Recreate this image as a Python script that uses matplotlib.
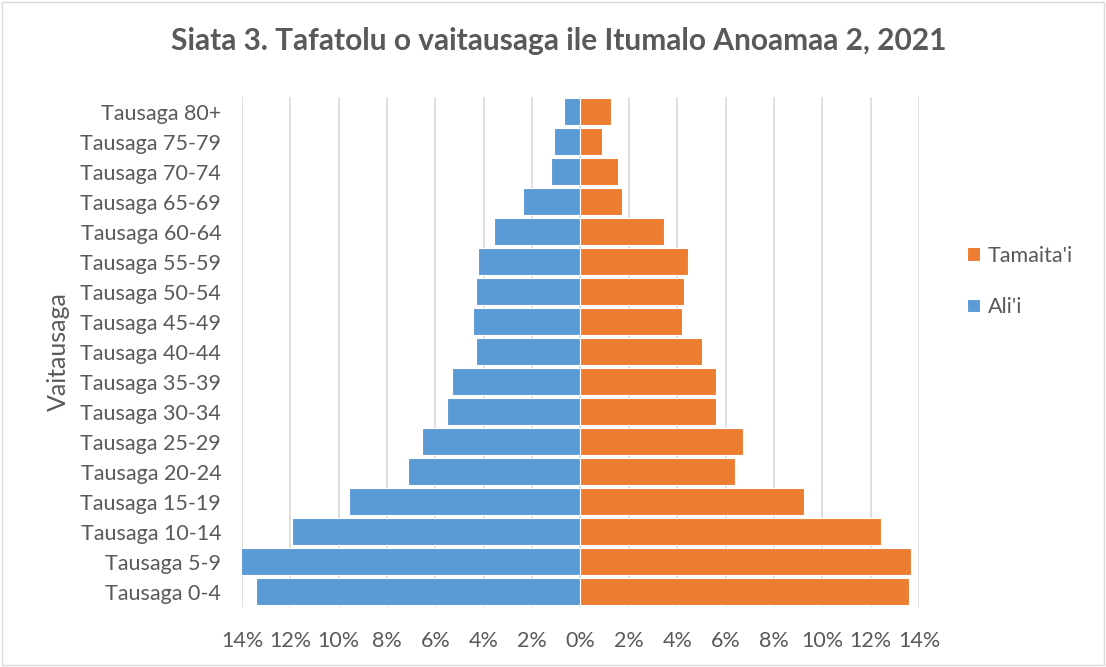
import matplotlib.pyplot as plt
import numpy as np
from matplotlib.patches import Rectangle
from matplotlib.ticker import FuncFormatter

# age groups, bottom to top
ages = ['Tausaga 0-4', 'Tausaga 5-9', 'Tausaga 10-14', 'Tausaga 15-19',
        'Tausaga 20-24', 'Tausaga 25-29', 'Tausaga 30-34', 'Tausaga 35-39',
        'Tausaga 40-44', 'Tausaga 45-49', 'Tausaga 50-54', 'Tausaga 55-59',
        'Tausaga 60-64', 'Tausaga 65-69', 'Tausaga 70-74', 'Tausaga 75-79',
        'Tausaga 80+']
# percent of population
alii = [13.4, 14.04, 11.94, 9.56, 7.12, 6.56, 5.51, 5.32, 4.31, 4.45,
        4.31, 4.23, 3.56, 2.37, 1.23, 1.1, 0.67]
tamaitai = [13.6, 13.69, 12.44, 9.25, 6.39, 6.72, 5.61, 5.61, 5.03, 4.2,
            4.28, 4.44, 3.47, 1.73, 1.57, 0.9, 1.25]
xticks = [-14, -12, -10, -8, -6, -4, -2, 0, 2, 4, 6, 8, 10, 12, 14]

grey = '#595959'
plt.rcParams['font.family'] = ['Lato', 'DejaVu Sans']

fig = plt.figure(figsize=(11.06, 6.67), dpi=100)
ax = fig.add_axes([0.2188, 0.09, 0.6121, 0.7646])

y = np.arange(len(ages))
b_m = ax.barh(y, -np.array(alii), height=0.9, color='#5B9BD5',
              edgecolor='white', linewidth=0.8, label="Ali'i", zorder=3)
b_f = ax.barh(y, tamaitai, height=0.9, color='#ED7D31',
              edgecolor='white', linewidth=0.8, label="Tamaita'i", zorder=3)

ax.set_xlim(-14, 14)
ax.set_ylim(-0.5, len(ages) - 0.5)
ax.set_xticks(xticks)
ax.xaxis.set_major_formatter(FuncFormatter(lambda v, p: '{:.0f}%'.format(abs(v))))
ax.set_yticks(y)
ax.set_yticklabels(ages)
ax.grid(axis='x', color='#d9d9d9', linewidth=1.2, zorder=0)
ax.tick_params(length=0, colors=grey, labelsize=15.5)
ax.tick_params(axis='x', pad=17)
ax.tick_params(axis='y', pad=15)
for s in ax.spines.values():
    s.set_visible(False)

ax.set_ylabel('Vaitausaga', color=grey, fontsize=18)
ax.yaxis.set_label_coords(-0.254, 0.5)

fig.suptitle('Siata 3. Tafatolu o vaitausaga ile Itumalo Anoamaa 2, 2021',
             x=0.505, y=0.96, fontsize=21.5, fontweight='bold', color=grey)

fig.legend(handles=[b_f, b_m], labels=["Tamaita'i", "Ali'i"],
           loc='center left', bbox_to_anchor=(0.857, 0.578), frameon=False,
           fontsize=15.5, labelcolor=grey, handlelength=0.6, handleheight=0.6,
           handletextpad=0.35, labelspacing=1.45)

fig.patches.append(Rectangle((0.002, 0.003), 0.996, 0.994, transform=fig.transFigure,
                             fill=False, edgecolor='#d9d9d9', linewidth=1))

fig.savefig('out.png', dpi=100)
